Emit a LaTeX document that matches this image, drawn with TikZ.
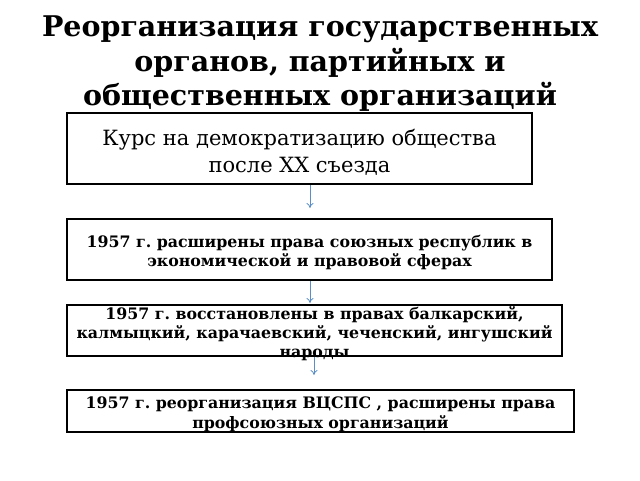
\documentclass[tikz,border=0pt]{standalone}
\usepackage{fontspec}
\setmainfont{DejaVu Serif}
\usetikzlibrary{arrows.meta}
\definecolor{arrowblue}{RGB}{91,141,200}
\frenchspacing
\begin{document}
\begin{tikzpicture}[x=1pt,y=-1pt,
  box/.style={draw=black, line width=1.8pt, rectangle, inner sep=0pt},
  txt/.style={align=center, inner sep=0pt},
  conn/.style={draw=arrowblue, line width=0.8pt, -{To[length=5pt,width=7pt]}}]
\useasboundingbox (0,0) rectangle (640,480);
\node[txt, font=\fontsize{28.5}{34.5}\selectfont\bfseries] (title) at (320,64) {Реорганизация государственных\\органов, партийных и\\общественных организаций};
\node[box, minimum width=465pt, minimum height=71pt] (b1) at (299.5,148.5) {};
\node[txt, font=\fontsize{21}{27}\selectfont] (t1) at (299.5,152.5) {Курс на демократизацию общества\\после XX съезда};
\node[box, minimum width=485pt, minimum height=61pt] (b2) at (309.5,249.5) {};
\node[txt, font=\fontsize{15.8}{19}\selectfont\bfseries] (t2) at (309.5,253) {1957 г. расширены права союзных республик в\\экономической и правовой сферах};
\node[box, minimum width=495pt, minimum height=51pt] (b3) at (314.5,330.5) {};
\node[txt, font=\fontsize{15.8}{19}\selectfont\bfseries] (t3) at (314.5,333.5) {1957 г. восстановлены в правах балкарский,\\калмыцкий, карачаевский, чеченский, ингушский\\народы};
\node[box, minimum width=507pt, minimum height=42pt] (b4) at (320.5,411) {};
\node[txt, font=\fontsize{15.8}{20}\selectfont\bfseries] (t4) at (320.5,414) {1957 г. реорганизация ВЦСПС , расширены права\\профсоюзных организаций};
\coordinate (e1) at (310,208);
\coordinate (e2) at (310,303);
\coordinate (e3) at (314,375);
\draw[conn] (b1.south -| e1) -- (e1);
\draw[conn] (b2.south -| e2) -- (e2);
\draw[conn] (b3.south -| e3) -- (e3);
\end{tikzpicture}
\end{document}
